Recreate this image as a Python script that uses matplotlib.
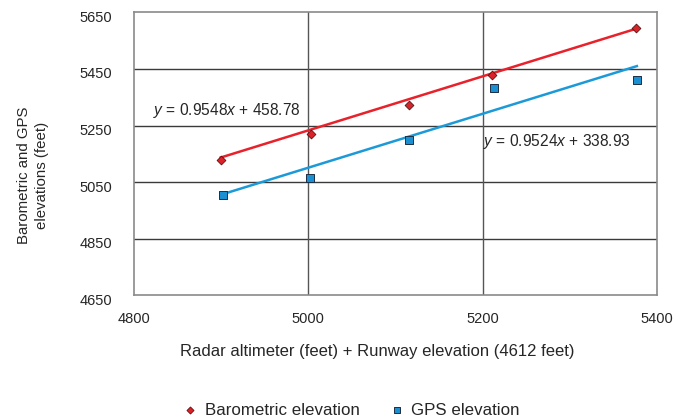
import matplotlib
matplotlib.use("Agg")
import matplotlib.pyplot as plt
from matplotlib import font_manager
import matplotlib.transforms as mtransforms
import numpy as np

# ---- data ----
baro_x = [4899.5, 5003, 5116, 5211, 5376]
baro_y = [5129, 5221, 5322, 5428, 5596]
gps_x = [4902, 5002, 5116, 5213, 5377]
gps_y = [5006, 5063, 5198, 5384, 5412]
baro_fit = [0.9548, 458.78]
gps_fit = [0.9524, 338.93]
x_ticks = [4800, 5000, 5200, 5400]
y_ticks = [4650, 4850, 5050, 5250, 5450, 5650]
series_names = ["Barometric elevation", "GPS elevation"]
x_label = "Radar altimeter (feet) + Runway elevation (4612 feet)"
y_label = "Barometric and GPS\nelevations (feet)"

names = {f.name for f in font_manager.fontManager.ttflist}
fam = ["Liberation Sans Narrow", "DejaVu Sans"] if "Liberation Sans Narrow" in names else ["Liberation Sans", "DejaVu Sans"]
plt.rcParams["font.family"] = fam
plt.rcParams["mathtext.fontset"] = "custom"
plt.rcParams["mathtext.it"] = fam[0] + ":italic"
plt.rcParams["mathtext.rm"] = fam[0]

text_col = "#262626"
red_line = "#e8212b"
blue_line = "#1c9ad8"

fig = plt.figure(figsize=(6.85, 4.19), dpi=100)
ax = fig.add_axes([0.1956, 0.2952, 0.959 - 0.1956, 0.9706 - 0.2952])

ax.set_xlim(x_ticks[0], x_ticks[-1])
ax.set_ylim(y_ticks[0], y_ticks[-1])
ax.set_xticks(x_ticks)
ax.set_yticks(y_ticks)
ax.tick_params(length=0, colors=text_col)
ax.tick_params(axis="y", pad=16, labelsize=10.5)
ax.tick_params(axis="x", pad=12, labelsize=10.5)
shift = mtransforms.ScaledTranslation(0, -4 / 100, fig.dpi_scale_trans)
for lab in ax.get_yticklabels():
    lab.set_transform(lab.get_transform() + shift)

for yv in y_ticks[1:-1]:
    ax.axhline(yv, color="#3a3a3a", lw=1.0, zorder=1)
for xv in x_ticks[1:-1]:
    ax.axvline(xv, color="#555555", lw=1.0, zorder=1)
for s in ax.spines.values():
    s.set_color("#8a8a8a")
    s.set_linewidth(1.2)

# trend lines
bx = np.array([min(baro_x), max(baro_x)])
gx = np.array([min(gps_x), max(gps_x)])
ax.plot(bx, baro_fit[0] * bx + baro_fit[1], color=red_line, lw=1.8, zorder=3)
ax.plot(gx, gps_fit[0] * gx + gps_fit[1], color=blue_line, lw=1.8, zorder=3)

ax.scatter(baro_x, baro_y, marker="D", s=20, color="#d8232a", edgecolors="#5a1010",
           linewidths=0.6, zorder=4, label=series_names[0])
ax.scatter(gps_x, gps_y, marker="s", s=32, color="#1a8fd2", edgecolors="#1b2f45",
           linewidths=0.7, zorder=4, label=series_names[1])

ax.text(4821.6, 5287, r"$y$ = 0.9548$x$ + 458.78", fontsize=11.2, color=text_col,
        va="baseline", ha="left")
ax.text(5200.8, 5178, r"$y$ = 0.9524$x$ + 338.93", fontsize=11.2, color=text_col,
        va="baseline", ha="left")

ax.set_xlabel(x_label, fontsize=12, color=text_col)
ax.xaxis.set_label_coords(0.4656, -0.1975)
ax.xaxis.label.set_va("center")
ax.set_ylabel(y_label, fontsize=10.8, color=text_col, linespacing=1.35,
              ha="center", va="center")
ax.yaxis.set_label_coords(-0.1937, 0.425)

leg = fig.legend(loc="center", bbox_to_anchor=(0.5135, 0.021), ncol=2, frameon=False,
                 fontsize=12.2, handlelength=0.8, handletextpad=0.45,
                 columnspacing=1.8, markerscale=0.8)
for t in leg.get_texts():
    t.set_color(text_col)

fig.savefig("out.png", dpi=100)
